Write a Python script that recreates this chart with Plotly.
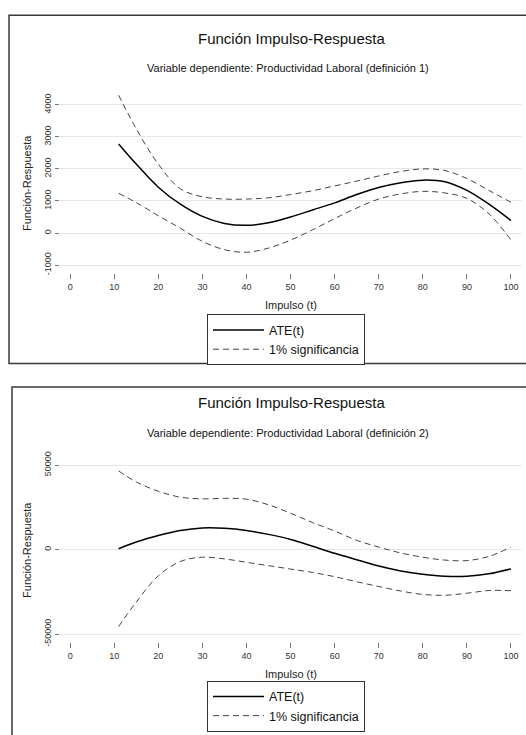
import plotly.graph_objects as go

# Impulse horizon (t)
t = [11, 15, 20, 25, 30, 35, 40, 45, 50, 55, 60, 65, 70, 75, 80, 85, 90, 95, 100]

# Definition 1: ATE(t) and 1% significance bands
ate_1 = [2780, 2150, 1430, 900, 520, 300, 240, 320, 500, 720, 940, 1200, 1420, 1570, 1650, 1600, 1330, 900, 390]
upper_1 = [4300, 3250, 2150, 1380, 1130, 1060, 1060, 1100, 1200, 1320, 1470, 1620, 1780, 1920, 2000, 1950, 1700, 1330, 960]
lower_1 = [1240, 950, 540, 150, -260, -520, -600, -470, -220, 100, 450, 780, 1060, 1220, 1300, 1250, 1080, 600, -220]

# Definition 2: ATE(t) and 1% significance bands
ate_2 = [500, 4500, 8300, 11300, 12800, 12600, 11300, 9000, 6000, 2000, -2200, -6000, -9700, -12600, -14600, -15800, -15800, -14300, -11400]
upper_2 = [46500, 40000, 34500, 31000, 30000, 30300, 29800, 26500, 21500, 16000, 11000, 5500, 1500, -2000, -4500, -6200, -6500, -4000, 1500]
lower_2 = [-45500, -31000, -15500, -7000, -4500, -5500, -7500, -9500, -11500, -13500, -16000, -19000, -21800, -24500, -26500, -27000, -25800, -24200, -24300]

x_ticks = [0, 10, 20, 30, 40, 50, 60, 70, 80, 90, 100]
y_ticks_1 = [-1000, 0, 1000, 2000, 3000, 4000]
y_labels_1 = ["-1000", "0", "1000", "2000", "3000", "4000"]
y_ticks_2 = [-50000, 0, 50000]
y_labels_2 = ["-50000", "0", "50000"]

titulo = "Función Impulso-Respuesta"
subtitulos = ["Variable dependiente: Productividad Laboral (definición 1)",
              "Variable dependiente: Productividad Laboral (definición 2)"]

W, H = 526, 735
FONT = "Liberation Sans, Arial, sans-serif"

fig = go.Figure()

panels = [
    dict(ate=ate_1, up=upper_1, lo=lower_1, xa="x", ya="y", leg="legend"),
    dict(ate=ate_2, up=upper_2, lo=lower_2, xa="x2", ya="y2", leg="legend2"),
]

for p in panels:
    fig.add_trace(go.Scatter(
        x=t, y=p["ate"], mode="lines", name="ATE(t)",
        line=dict(color="black", width=1.5, shape="spline", smoothing=1.0),
        xaxis=p["xa"], yaxis=p["ya"], legend=p["leg"], legendgroup=p["leg"] + "a"))
    fig.add_trace(go.Scatter(
        x=t, y=p["up"], mode="lines", name="1% significancia",
        line=dict(color="#444444", width=1.0, dash="6px,4px", shape="spline", smoothing=1.0),
        xaxis=p["xa"], yaxis=p["ya"], legend=p["leg"], legendgroup=p["leg"] + "b"))
    fig.add_trace(go.Scatter(
        x=t, y=p["lo"], mode="lines", name="1% significancia", showlegend=False,
        line=dict(color="#444444", width=1.0, dash="6px,4px", shape="spline", smoothing=1.0),
        xaxis=p["xa"], yaxis=p["ya"], legend=p["leg"], legendgroup=p["leg"] + "b"))

def px_x(v):
    return v / W

def px_y(v):
    return 1 - v / H

xaxis_style = dict(
    range=[-2.3, 102.5], tickvals=x_ticks, showgrid=False, zeroline=False,
    showline=False, ticks="outside", ticklen=5, tickwidth=1, tickcolor="#777777",
    tickfont=dict(size=9, color="#333333", family=FONT),
    title=dict(text="Impulso (t)", font=dict(size=11, color="#222222", family=FONT), standoff=10),
    domain=[px_x(60), px_x(522)],
)
yaxis_style = dict(
    showgrid=True, gridcolor="#e6e6e6", gridwidth=1.2, zeroline=False, showline=False,
    ticks="outside", ticklen=4, tickwidth=1, tickcolor="#777777", tickangle=-90,
    tickfont=dict(size=9, color="#333333", family=FONT),
    title=dict(text="Función-Respuesta", font=dict(size=11, color="#222222", family=FONT), standoff=9),
)

legend_style = dict(
    x=px_x(207), xanchor="left", yanchor="top",
    bgcolor="white", bordercolor="#333333", borderwidth=1,
    font=dict(size=12.5, color="#111111", family=FONT),
    itemwidth=51, tracegroupgap=0,
)

fig.update_layout(
    width=W, height=H, margin=dict(l=0, r=0, t=0, b=0),
    paper_bgcolor="white", plot_bgcolor="white",
    font=dict(family=FONT),
    xaxis=dict(xaxis_style, anchor="y"),
    yaxis=dict(yaxis_style, range=[-1246, 4347], tickvals=y_ticks_1, ticktext=y_labels_1,
               domain=[px_y(270), px_y(88)], anchor="x"),
    xaxis2=dict(xaxis_style, anchor="y2"),
    yaxis2=dict(yaxis_style, range=[-54840, 54080], tickvals=y_ticks_2, ticktext=y_labels_2,
                domain=[px_y(645), px_y(458)], anchor="x2"),
    legend=dict(legend_style, y=px_y(312)),
    legend2=dict(legend_style, y=px_y(684)),
)

# Panel titles
for sub, ty, sy in [(subtitulos[0], 32, 62), (subtitulos[1], 402, 432)]:
    fig.add_annotation(text=titulo, x=px_x(291), y=px_y(ty), xref="paper", yref="paper",
                       showarrow=False, xanchor="center", yanchor="middle",
                       font=dict(size=15, color="#111111", family=FONT))
    fig.add_annotation(text=sub, x=px_x(288), y=px_y(sy), xref="paper", yref="paper",
                       showarrow=False, xanchor="center", yanchor="middle",
                       font=dict(size=11, color="#111111", family=FONT))

# Panel frames
frame = dict(color="#3a3a3a", width=1.5)
fig.add_shape(type="rect", xref="paper", yref="paper",
              x0=px_x(9), x1=1.02, y0=px_y(362), y1=px_y(8.5), line=frame, layer="below")
fig.add_shape(type="rect", xref="paper", yref="paper",
              x0=px_x(12), x1=1.02, y0=-0.02, y1=px_y(385.7), line=frame, layer="below")

fig.write_html("out.html")
